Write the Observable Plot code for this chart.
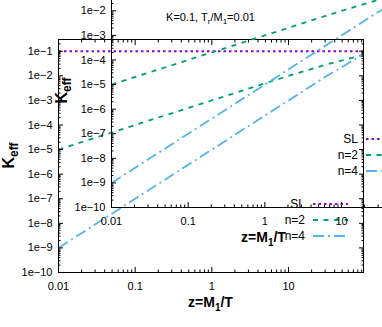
<!DOCTYPE html>
<html><head><meta charset="utf-8">
<script src="https://cdn.jsdelivr.net/npm/d3@7"></script>
<script src="https://cdn.jsdelivr.net/npm/@observablehq/plot@0.6"></script>
<style>
html,body{margin:0;padding:0;background:#fff;overflow:hidden;}
#wrap{position:relative;width:382px;height:327px;overflow:hidden;background:#fff;}
.copy{position:absolute;width:382px;height:327px;}
</style></head><body><div id="wrap"></div>
<script>
// ---- data ----
const z = [0.01, 0.1, 1, 10, 30, 95];
const kSL = [0.1, 0.1, 0.1, 0.1, 0.1, 0.1];
const kN2 = [1e-5, 1e-4, 1e-3, 1e-2, 2.8e-2, 7.1e-2];
const kN4 = [1e-9, 1e-7, 1e-5, 1e-3, 8.9e-3, 7.6e-2];
const seriesNames = ["SL", "n=2", "n=4"];
const xTicks = [0.01, 0.1, 1, 10];
const xTickLabels = ["0.01", "0.1", "1", "10"];
const yTicks = [1e-10, 1e-9, 1e-8, 1e-7, 1e-6, 1e-5, 1e-4, 1e-3, 1e-2, 1e-1];
const yTickLabels = ["1e\u221210", "1e\u22129", "1e\u22128", "1e\u22127", "1e\u22126", "1e\u22125", "1e\u22124", "1e\u22123", "1e\u22122", "1e\u22121"];

// ---- styles ----
const FONT = "'Liberation Sans', Arial, sans-serif";
const colors = ["#9400d3", "#009e73", "#56b4e9"];
const dashes = ["2.5,3", "5,5.5", "11,4,2,4"];
const widths = [2, 1.8, 1.8];
const W = 382, H = 327, ML = 58, MR = 19, MT = 39, MB = 55;

function minors(lo, hi) {
  const out = [];
  for (let e = -11; e <= 2; e++) for (let k = 2; k <= 9; k++) {
    const v = k * Math.pow(10, e);
    if (v > lo * 1.0001 && v < hi * 0.9999) out.push(v);
  }
  return out;
}

function makeChart() {
  const series = [kSL, kN2, kN4];
  const rows = [];
  series.forEach((arr, si) => z.forEach((v, i) => rows.push({z: v, k: arr[i], s: seriesNames[si]})));
  const xDom = [0.01, 95], yDom = [1e-10, 0.3];
  const xMin = minors(...xDom), yMin = minors(...yDom);
  const lines = seriesNames.map((name, si) =>
    Plot.line(rows.filter(r => r.s === name), {
      x: "z", y: "k", stroke: colors[si], strokeWidth: widths[si],
      strokeDasharray: dashes[si], strokeLinecap: "butt"
    }));
  const svg = Plot.plot({
    width: W, height: H,
    marginLeft: ML, marginRight: MR, marginTop: MT, marginBottom: MB,
    style: {background: "transparent", fontFamily: FONT, fontSize: "11px", color: "black", overflow: "visible"},
    x: {type: "log", domain: xDom},
    y: {type: "log", domain: yDom},
    marks: [
      ...lines,
      Plot.frame({stroke: "black", strokeWidth: 1}),
      Plot.axisX(xTicks, {anchor: "bottom", tickSize: -5, tickPadding: 15, label: null,
        tickFormat: d => xTickLabels[xTicks.indexOf(d)], fontSize: 11}),
      Plot.axisX(xTicks, {anchor: "top", tickSize: -5, tickPadding: 0, label: null, tickFormat: () => ""}),
      Plot.axisX(xMin, {anchor: "bottom", tickSize: -2.5, label: null, tickFormat: () => ""}),
      Plot.axisX(xMin, {anchor: "top", tickSize: -2.5, label: null, tickFormat: () => ""}),
      Plot.axisY(yTicks, {anchor: "left", tickSize: -5, tickPadding: 11, label: null,
        tickFormat: d => yTickLabels[yTicks.indexOf(d)], fontSize: 11}),
      Plot.axisY(yTicks, {anchor: "right", tickSize: -5, label: null, tickFormat: () => ""}),
      Plot.axisY(yMin, {anchor: "left", tickSize: -2.5, label: null, tickFormat: () => ""}),
      Plot.axisY(yMin, {anchor: "right", tickSize: -2.5, label: null, tickFormat: () => ""})
    ]
  });

  const s = d3.select(svg);
  const g = s.append("g").attr("font-family", FONT).attr("fill", "black");
  const cx = (ML + (W - MR)) / 2;
  // title
  const t = g.append("text").attr("x", cx).attr("y", 21).attr("text-anchor", "middle").attr("font-size", 11);
  t.append("tspan").text("K=0.1, T");
  t.append("tspan").attr("dy", 3).attr("font-size", 8).text("r");
  t.append("tspan").attr("dy", -3).text("/M");
  t.append("tspan").attr("dy", 3).attr("font-size", 8).text("1");
  t.append("tspan").attr("dy", -3).text("=0.01");
  // x label
  const xl = g.append("text").attr("x", cx).attr("y", 307).attr("text-anchor", "middle")
    .attr("font-size", 14).attr("font-weight", "bold");
  xl.append("tspan").text("z=M");
  xl.append("tspan").attr("dy", 4).attr("font-size", 10).text("1");
  xl.append("tspan").attr("dy", -4).text("/T");
  // y label
  const yl = g.append("text").attr("transform", `translate(14,${(MT + H - MB) / 2}) rotate(-90)`)
    .attr("text-anchor", "middle").attr("font-size", 16).attr("font-weight", "bold");
  yl.append("tspan").text("K");
  yl.append("tspan").attr("dy", 4).attr("font-size", 12).text("eff");
  // legend
  const lx = 305, ly = 204, lh = 16;
  seriesNames.forEach((name, i) => {
    g.append("text").attr("x", lx).attr("y", ly + i * lh).attr("dy", "0.35em")
      .attr("text-anchor", "end").attr("font-size", 12).text(name);
    g.append("line").attr("x1", lx + 8).attr("x2", lx + 43).attr("y1", ly + i * lh).attr("y2", ly + i * lh)
      .attr("stroke", colors[i]).attr("stroke-width", widths[i]).attr("stroke-dasharray", dashes[i]);
  });
  return svg;
}

const wrap = document.getElementById("wrap");
[[0, 0], [53, -65]].forEach(([dx, dy]) => {
  const d = document.createElement("div");
  d.className = "copy";
  d.style.left = dx + "px";
  d.style.top = dy + "px";
  d.appendChild(makeChart());
  wrap.appendChild(d);
});
</script></body></html>
